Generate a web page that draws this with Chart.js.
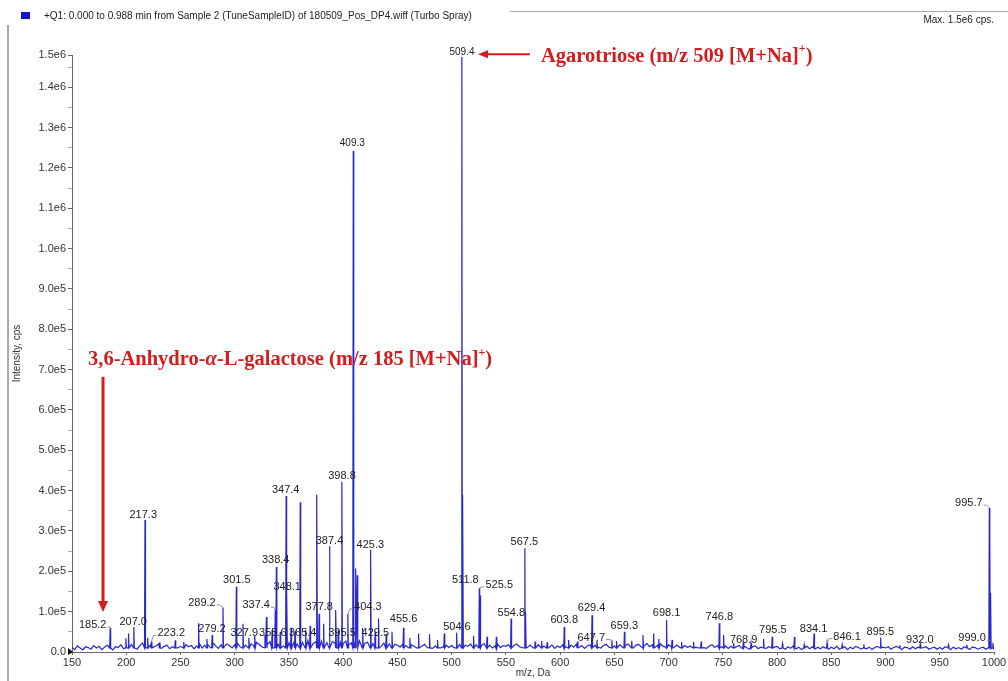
<!DOCTYPE html>
<html lang="en">
<head>
<meta charset="UTF-8">
<title>+Q1 spectrum 180509_Pos_DP4</title>
<style>
  html, body { margin: 0; padding: 0; background: #fff; }
  #wrap { position: relative; width: 1008px; height: 681px; }
</style>
</head>
<body>
<div id="wrap"><canvas id="spec"></canvas></div>
<script src="https://cdn.jsdelivr.net/npm/chart.js@4"></script>
<script>
// axis ticks
const xTicks = [150, 200, 250, 300, 350, 400, 450, 500, 550, 600, 650, 700, 750, 800, 850, 900, 950, 1000];
const yTicks = [0, 100000, 200000, 300000, 400000, 500000, 600000, 700000, 800000, 900000, 1000000, 1100000, 1200000, 1300000, 1400000, 1480000];
const yTickLabels = ['0.0', '1.0e5', '2.0e5', '3.0e5', '4.0e5', '5.0e5', '6.0e5', '7.0e5', '8.0e5', '9.0e5', '1.0e6', '1.1e6', '1.2e6', '1.3e6', '1.4e6', '1.5e6'];
const yMinorTicks = [50000, 150000, 250000, 350000, 450000, 550000, 650000, 750000, 850000, 950000, 1050000, 1150000, 1250000, 1350000, 1450000];

// baseline noise, one value every 2.5 m/z from 150 to 1000 (x 1e4 cps)
const noiseInt = [
  1.2,0.6,1.5,1.0,0.5,1.3,1.1,0.7,1.6,1.0,1.4,0.6,1.2,1.7,0.9,0.5,1.3,1.1,1.8,0.8,
  1.5,0.9,1.9,1.3,0.7,1.6,2.2,1.4,0.8,1.8,1.2,1.5,2.0,0.9,1.4,1.7,0.8,1.3,1.9,1.0,
  1.4,0.9,1.8,1.3,1.6,0.8,1.5,2.1,1.0,1.7,1.9,1.1,2.3,1.5,0.9,1.8,1.2,2.0,1.6,1.0,
  1.8,2.2,1.3,2.5,1.7,1.2,2.0,1.6,2.4,1.9,1.3,2.2,1.8,2.6,1.4,2.1,1.9,2.4,1.5,2.0,
  2.3,1.6,2.6,2.0,1.5,2.4,2.1,2.8,1.7,2.2,2.5,1.6,2.7,2.1,2.3,1.7,2.6,2.2,1.6,2.4,
  2.1,2.7,1.7,2.3,2.5,1.8,2.8,1.6,2.2,2.4,1.5,2.1,2.5,1.7,1.4,2.2,1.6,2.0,1.3,1.9,
  1.7,1.2,2.0,1.6,1.1,1.8,1.5,1.0,1.7,1.4,1.9,1.1,1.6,0.9,1.5,1.8,1.0,1.4,1.7,1.1,
  1.6,1.0,1.5,1.9,1.1,1.7,1.4,2.0,1.3,1.8,1.1,1.6,2.1,1.2,1.7,1.0,1.5,1.9,1.1,1.6,
  1.4,1.8,1.0,1.6,2.0,1.3,1.1,1.9,1.2,1.7,1.0,1.6,1.8,1.1,1.5,2.0,1.2,1.7,0.9,1.5,
  1.1,1.8,1.3,1.0,1.7,1.2,1.9,1.1,1.6,0.9,1.5,1.8,1.1,1.7,1.2,1.0,1.6,1.9,1.2,1.7,
  1.5,1.1,1.8,1.2,1.6,2.0,1.3,1.0,1.7,1.9,1.2,1.6,2.1,1.3,1.8,1.1,1.7,2.0,1.4,1.2,
  1.8,1.3,1.1,1.7,1.2,1.0,1.6,1.1,1.5,1.9,1.2,1.0,1.6,1.1,0.9,1.5,1.8,1.1,1.6,1.2,
  1.2,1.5,0.9,1.4,0.8,1.3,1.6,0.9,1.4,1.0,0.7,1.3,1.5,0.8,1.2,1.4,0.9,1.3,0.7,1.2,
  1.4,0.8,1.2,0.7,1.3,0.9,1.5,0.8,1.2,0.6,1.1,1.4,0.8,1.3,0.7,1.2,0.8,1.3,0.9,0.7,
  1.2,0.8,1.4,0.7,1.1,1.3,0.6,1.2,0.8,1.4,1.1,0.7,1.3,0.8,1.2,0.6,1.1,1.4,0.8,1.2,
  1.0,1.3,0.7,1.1,1.4,0.8,0.6,1.2,1.1,0.7,1.3,0.8,1.2,0.6,1.1,1.3,0.7,1.0,1.2,0.7,
  1.1,0.7,1.3,0.8,0.6,1.2,0.8,1.1,0.7,1.3,0.8,0.6,1.2,1.1,0.7,1.0,1.2,0.7,1.1,0.8,
  0.6
];

// peaks: m/z and intensity (cps)
const peakMz = [185.2, 199.7, 202.1, 207.0, 217.3, 219.8, 223.2, 231.0, 245.2, 253.0, 266.7, 274.4, 279.2, 289.2,
  301.5, 307.6, 313.0, 318.5, 327.9, 329.3, 334.5, 337.4, 338.4, 342.0, 347.4, 348.1, 352.0, 355.6, 360.4, 365.4,
  369.5, 375.8, 377.8, 382.0, 387.4, 393.3, 395.5, 398.8, 404.3, 409.3, 411.5, 413.0, 418.0, 425.3, 429.5, 432.6,
  439.7, 445.0, 455.6, 461.5, 469.5, 479.6, 487.0, 493.2, 504.6, 509.4, 510.3, 520.2, 525.5, 526.2, 532.6, 541.2,
  554.8, 567.5, 568.2, 577.0, 583.0, 588.0, 603.8, 607.8, 616.0, 629.4, 634.0, 647.7, 652.0, 659.3, 666.0, 676.4,
  686.2, 691.0, 698.1, 703.2, 712.0, 723.0, 730.0, 746.8, 750.7, 760.0, 768.9, 776.0, 787.6, 795.5, 805.0, 816.0,
  825.0, 834.1, 846.1, 860.0, 880.0, 895.5, 913.0, 932.0, 958.0, 975.0, 995.7, 996.3, 996.9, 999.0];
const peakInt = [59000, 34000, 46000, 62000, 327000, 35000, 26000, 24000, 29000, 25000, 71000, 32000, 42000, 110000,
  162000, 70000, 35000, 40000, 42000, 87000, 55000, 104000, 211000, 50000, 387000, 150000, 60000, 52000, 371000, 55000,
  65000, 390000, 95000, 70000, 263000, 104000, 55000, 422000, 94000, 1242000, 207000, 190000, 60000, 253000, 50000, 83000,
  45000, 50000, 60000, 35000, 46000, 44000, 30000, 46000, 48000, 1475000, 390000, 40000, 158000, 140000, 38000, 38000,
  83000, 257000, 100000, 26000, 28000, 24000, 62000, 30000, 26000, 91000, 28000, 29000, 27000, 50000, 28000, 42000,
  46000, 32000, 79000, 30000, 24000, 25000, 26000, 71000, 42000, 22000, 24000, 22000, 32000, 38000, 20000, 37000,
  18000, 46000, 22000, 18000, 19000, 36000, 17000, 20000, 17000, 18000, 357000, 310000, 146000, 22000];

// peak labels: text, anchor m/z and intensity of the text centre
const labelText = ['185.2', '207.0', '217.3', '223.2', '279.2', '289.2', '301.5', '327.9', '337.4', '338.4', '347.4', '348.1',
  '355.6', '365.4', '377.8', '387.4', '395.5', '398.8', '404.3', '409.3', '425.3', '429.5', '455.6', '504.6', '509.4', '511.8',
  '525.5', '554.8', '567.5', '603.8', '629.4', '647.7', '659.3', '698.1', '746.8', '768.9', '795.5', '834.1', '846.1', '895.5',
  '932.0', '999.0', '995.7'];
const labelMz = [169.1, 206.4, 215.7, 241.5, 279.0, 269.8, 302.0, 308.8, 319.8, 337.8, 347.0, 348.4,
  335.1, 362.7, 377.9, 387.4, 398.9, 398.9, 422.7, 408.4, 425.0, 429.6, 455.7, 504.9, 509.5, 512.6,
  543.9, 555.0, 567.0, 603.8, 629.0, 628.7, 659.2, 698.2, 746.8, 769.2, 796.1, 833.7, 864.5, 895.2,
  931.6, 979.8, 976.8];
const labelInt = [67000, 75000, 340000, 46000, 56000, 122000, 178000, 46000, 116000, 228000, 402000, 160000,
  46000, 47000, 112000, 275000, 46000, 437000, 112000, 1261000, 265000, 46000, 81000, 62000, 1488000, 178000,
  166000, 96000, 274000, 79000, 108000, 36000, 65000, 96000, 87000, 29000, 54000, 58000, 38000, 50000,
  31000, 34000, 369000];
// labels joined to their peak by a leader line, and the peak height they point at
const leaderLabels = ['185.2', '223.2', '289.2', '337.4', '404.3', '525.5', '647.7', '846.1', '999.0', '995.7'];
const leaderInt = [59000, 26000, 110000, 104000, 94000, 158000, 29000, 22000, 22000, 357000];
// the two tallest labels are printed a size smaller
const smallLabels = ['409.3', '509.4'];

const SANS = '"Liberation Sans", Arial, sans-serif';
const SERIF = '"Liberation Serif", "Times New Roman", serif';
const RED = '#d21d1d';

// build the profile trace
const trace = [];
noiseInt.forEach((v, i) => {
  const mz = 150 + i * 2.5;
  if (peakMz.some(p => Math.abs(p - mz) < 0.6)) return;
  trace.push({ x: mz, y: v * 10000 });
});
peakMz.forEach((mz, i) => {
  trace.push({ x: mz - 0.45, y: 10000 }, { x: mz, y: peakInt[i] }, { x: mz + 0.45, y: 10000 });
});
trace.sort((a, b) => a.x - b.x);

function drawParts(ctx, x, y, parts) {
  parts.forEach(p => {
    ctx.font = p.font;
    ctx.fillText(p.t, x, y + (p.dy || 0));
    x += ctx.measureText(p.t).width;
  });
}

function arrow(ctx, x1, y1, x2, y2, w, headLen, headHalf) {
  const a = Math.atan2(y2 - y1, x2 - x1);
  const bx = x2 - Math.cos(a) * headLen, by = y2 - Math.sin(a) * headLen;
  ctx.lineWidth = w;
  ctx.beginPath(); ctx.moveTo(x1, y1); ctx.lineTo(bx, by); ctx.stroke();
  ctx.beginPath();
  ctx.moveTo(x2, y2);
  ctx.lineTo(bx + Math.sin(a) * headHalf, by - Math.cos(a) * headHalf);
  ctx.lineTo(bx - Math.sin(a) * headHalf, by + Math.cos(a) * headHalf);
  ctx.closePath(); ctx.fill();
}

const decor = {
  id: 'decor',
  afterDraw(chart) {
    const { ctx, scales: { x, y } } = chart;
    ctx.save();
    // frame bits of the original window
    ctx.strokeStyle = '#a8a8a8'; ctx.lineWidth = 2;
    ctx.beginPath(); ctx.moveTo(8, 25); ctx.lineTo(8, 681); ctx.stroke();
    ctx.lineWidth = 1;
    ctx.beginPath(); ctx.moveTo(510, 11.5); ctx.lineTo(1008, 11.5); ctx.stroke();

    // header
    ctx.fillStyle = '#1414c4';
    ctx.fillRect(21, 12, 9, 7);
    ctx.fillStyle = '#222';
    ctx.font = '10px ' + SANS;
    ctx.textBaseline = 'middle'; ctx.textAlign = 'left';
    ctx.fillText('+Q1: 0.000 to 0.988 min from Sample 2 (TuneSampleID) of 180509_Pos_DP4.wiff (Turbo Spray)', 44, 16);
    ctx.textAlign = 'right';
    ctx.fillText('Max. 1.5e6 cps.', 994, 20);

    // origin marker
    ctx.fillStyle = '#111';
    const oy = y.getPixelForValue(0);
    ctx.beginPath(); ctx.moveTo(x.left - 4, oy - 4); ctx.lineTo(x.left + 1, oy); ctx.lineTo(x.left - 4, oy + 3); ctx.fill();

    // peak labels
    ctx.fillStyle = '#222'; ctx.textAlign = 'center'; ctx.textBaseline = 'middle';
    ctx.strokeStyle = '#777'; ctx.lineWidth = 0.8;
    labelText.forEach((t, i) => {
      ctx.font = (smallLabels.includes(t) ? '10px ' : '11px ') + SANS;
      const px = x.getPixelForValue(labelMz[i]), py = y.getPixelForValue(labelInt[i]);
      ctx.fillText(t, px, py);
      const li = leaderLabels.indexOf(t);
      if (li >= 0) {
        const hw = ctx.measureText(t).width / 2;
        const tx = x.getPixelForValue(parseFloat(t)), ty = y.getPixelForValue(leaderInt[li]);
        const dir = tx > px ? 1 : -1;
        const sx = px + dir * (hw + 1);
        ctx.beginPath(); ctx.moveTo(sx, py + 2); ctx.lineTo(sx + dir * 3, py + 2); ctx.lineTo(tx, ty); ctx.stroke();
      }
    });

    // red annotations
    ctx.fillStyle = RED; ctx.strokeStyle = '#e01818';
    ctx.textAlign = 'left'; ctx.textBaseline = 'middle';
    const big = 'bold 20.5px ' + SERIF, sup = 'bold 12px ' + SERIF;
    drawParts(ctx, x.getPixelForValue(582.4), y.getPixelForValue(1477000), [
      { t: 'Agarotriose (m/z 509 [M+Na]', font: big },
      { t: '+', font: sup, dy: -7 },
      { t: ')', font: big }
    ]);
    arrow(ctx, x.getPixelForValue(572.2), y.getPixelForValue(1482000), x.getPixelForValue(524.3), y.getPixelForValue(1482000), 2, 10, 4);

    drawParts(ctx, x.getPixelForValue(164.8), y.getPixelForValue(724000), [
      { t: '3,6-Anhydro-', font: big },
      { t: 'α', font: 'italic bold 20.5px ' + SERIF },
      { t: '-L-galactose (m/z 185 [M+Na]', font: big },
      { t: '+', font: sup, dy: -7 },
      { t: ')', font: big }
    ]);
    arrow(ctx, x.getPixelForValue(178.6), y.getPixelForValue(682000), x.getPixelForValue(178.6), y.getPixelForValue(99000), 3, 11, 5);
    ctx.restore();
  }
};

new Chart(document.getElementById('spec'), {
  type: 'line',
  data: {
    datasets: [{
      data: trace,
      borderColor: '#2727d2',
      borderWidth: 1.2,
      pointRadius: 0,
      tension: 0
    }]
  },
  options: {
    responsive: true,
    maintainAspectRatio: false,
    animation: false,
    events: [],
    layout: { padding: { left: 8, right: 14, top: 55, bottom: 0 } },
    plugins: { legend: { display: false }, tooltip: { enabled: false } },
    scales: {
      x: {
        type: 'linear', min: 150, max: 1000,
        afterBuildTicks: s => { s.ticks = xTicks.map(v => ({ value: v })); },
        afterFit: s => { s.height = 29; },
        ticks: { autoSkip: false, maxRotation: 0, padding: 1, color: '#333', font: { family: SANS, size: 11 }, callback: v => String(v) },
        grid: { drawOnChartArea: false, drawTicks: true, tickLength: 3, tickColor: '#666' },
        border: { color: '#666', width: 1 },
        title: { display: true, text: 'm/z, Da', color: '#333', font: { family: SANS, size: 10 }, padding: { top: 0, bottom: 2 } }
      },
      y: {
        type: 'linear', min: 0, max: 1480000,
        afterBuildTicks: s => { s.ticks = yTicks.concat(yMinorTicks).sort((a, b) => a - b).map(v => ({ value: v })); },
        afterFit: s => { s.width = 64; },
        ticks: {
          autoSkip: false, padding: 2, color: '#333', font: { family: SANS, size: 11 },
          callback: v => { const i = yTicks.indexOf(v); return i >= 0 ? yTickLabels[i] : ''; }
        },
        grid: {
          drawOnChartArea: false, drawTicks: true, tickLength: 4,
          tickColor: c => (c.tick && yTicks.includes(c.tick.value)) ? '#666' : '#aaa'
        },
        border: { color: '#666', width: 1 },
        title: { display: true, text: 'Intensity, cps', color: '#333', font: { family: SANS, size: 10 }, padding: { top: 3, bottom: 0 } }
      }
    }
  },
  plugins: [decor]
});
</script>
</body>
</html>
